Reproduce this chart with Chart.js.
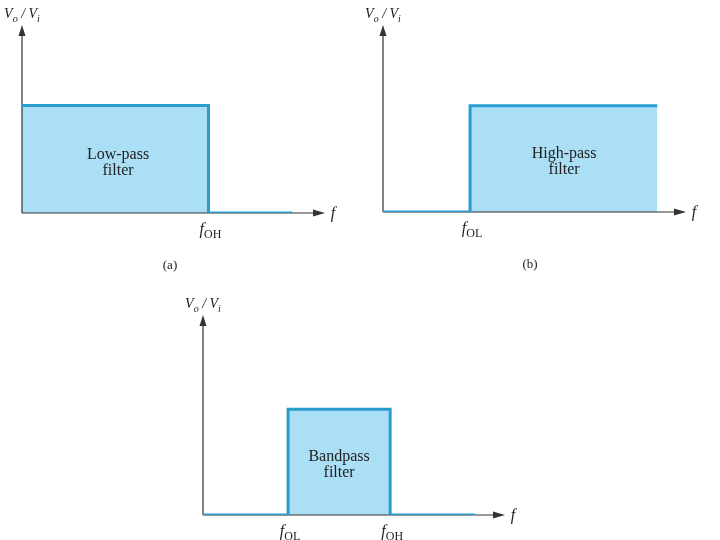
<!DOCTYPE html>
<html>

<head>
    <title>Filter responses</title>
    <script src="https://cdn.jsdelivr.net/npm/chart.js@4"></script>
    <style>
        body { margin: 0; background: #fff; }
        #wrap { position: relative; width: 720px; height: 540px; }
        canvas { position: absolute; }
    </style>
</head>

<body>
    <div id="wrap">
        <canvas id="lowPass" width="360" height="280" style="left:0;top:0"></canvas>
        <canvas id="highPass" width="360" height="280" style="left:360px;top:0"></canvas>
        <canvas id="bandPass" width="360" height="250" style="left:180px;top:290px"></canvas>
    </div>

    <script>
        // Step responses (x = frequency in arbitrary units, y = Vo/Vi)
        const lowPassX = [0, 2, 2.9];
        const lowPassY = [1, 0, 0];
        const highPassX = [0, 1, 3.15];
        const highPassY = [0, 1, 1];
        const bandPassX = [0, 1, 2.2, 3.2];
        const bandPassY = [0, 1, 0, 0];

        // cutoff frequency marks under the x axis
        const lowPassCutX = [2];
        const lowPassCutLabels = ['OH'];
        const highPassCutX = [1];
        const highPassCutLabels = ['OL'];
        const bandPassCutX = [1, 2.2];
        const bandPassCutLabels = ['OL', 'OH'];

        // text inside the pass band
        const lowPassName = ['Low-pass', 'filter'];
        const highPassName = ['High-pass', 'filter'];
        const bandPassName = ['Bandpass', 'filter'];

        const FILL = '#abdff6';
        const LINE = '#2a9dce';
        const AXIS = '#333';
        const TEXT = '#222';
        const SERIF = '"Liberation Serif", "DejaVu Serif", serif';

        // draw text runs: [{t, it, sub}]
        function drawRuns(ctx, runs, cx, y, size) {
            const fontOf = r => (r.it ? 'italic ' : '') + (r.sub ? Math.round(size * 0.72) : size) + 'px ' + SERIF;
            let total = 0;
            runs.forEach(r => { ctx.font = fontOf(r); total += ctx.measureText(r.t).width; });
            let x = cx - total / 2;
            ctx.textAlign = 'left';
            ctx.textBaseline = 'alphabetic';
            ctx.fillStyle = TEXT;
            runs.forEach(r => {
                ctx.font = fontOf(r);
                ctx.fillText(r.t, x, r.sub ? y + size * 0.28 : y);
                x += ctx.measureText(r.t).width;
            });
        }

        const diagramPlugin = {
            id: 'diagram',
            beforeDatasetsDraw(chart) {
                // axes with arrow heads, drawn over the fill but under the blue line
                const ctx = chart.ctx;
                const a = chart.chartArea;
                ctx.save();
                ctx.strokeStyle = AXIS;
                ctx.fillStyle = AXIS;
                ctx.lineWidth = 1.2;
                ctx.beginPath();
                ctx.moveTo(a.left, a.bottom);
                ctx.lineTo(a.left, a.top + 8);
                ctx.moveTo(a.left, a.bottom);
                ctx.lineTo(a.right - 10, a.bottom);
                ctx.stroke();
                ctx.beginPath();
                ctx.moveTo(a.left, a.top);
                ctx.lineTo(a.left - 3.5, a.top + 11);
                ctx.lineTo(a.left + 3.5, a.top + 11);
                ctx.closePath();
                ctx.fill();
                ctx.beginPath();
                ctx.moveTo(a.right, a.bottom);
                ctx.lineTo(a.right - 12, a.bottom - 3.5);
                ctx.lineTo(a.right - 12, a.bottom + 3.5);
                ctx.closePath();
                ctx.fill();
                ctx.restore();
            },
            afterDraw(chart, args, opts) {
                const ctx = chart.ctx;
                const a = chart.chartArea;
                const xs = chart.scales.x;
                const ys = chart.scales.y;
                ctx.save();
                // axis titles
                drawRuns(ctx, [
                    { t: 'V', it: true }, { t: 'o', it: true, sub: true },
                    { t: ' / ', it: true },
                    { t: 'V', it: true }, { t: 'i', it: true, sub: true }
                ], a.left, a.top - 7, 14);
                drawRuns(ctx, [{ t: 'f', it: true }], a.right + 8, a.bottom + 5, 16);
                // cutoff marks
                opts.cutX.forEach((v, i) => {
                    drawRuns(ctx, [{ t: 'f', it: true }, { t: opts.cutLabels[i], sub: true }],
                        xs.getPixelForValue(v) + 2, a.bottom + 21, 16);
                });
                // band name
                ctx.font = '16px ' + SERIF;
                ctx.fillStyle = TEXT;
                ctx.textAlign = 'center';
                ctx.textBaseline = 'middle';
                const cx = xs.getPixelForValue(opts.nameX);
                const cy = ys.getPixelForValue(0.47);
                ctx.fillText(opts.name[0], cx, cy - 8);
                ctx.fillText(opts.name[1], cx, cy + 8);
                // caption
                if (opts.caption) {
                    ctx.font = '13px ' + SERIF;
                    ctx.fillText(opts.caption, opts.captionX, a.bottom + 53);
                }
                ctx.restore();
            }
        };

        function makeDiagram(id, xsArr, ysArr, xMax, yMax, padding, extra) {
            const ctx = document.getElementById(id).getContext('2d');
            return new Chart(ctx, {
                type: 'line',
                data: {
                    datasets: [{
                        data: xsArr.map((x, i) => ({ x: x, y: ysArr[i] })),
                        stepped: 'before',
                        fill: 'origin',
                        backgroundColor: FILL,
                        borderColor: LINE,
                        borderWidth: 3,
                        borderJoinStyle: 'miter',
                        pointRadius: 0
                    }]
                },
                options: {
                    responsive: false,
                    animation: false,
                    layout: { padding: padding },
                    scales: {
                        x: { type: 'linear', display: false, min: 0, max: xMax },
                        y: { display: false, min: 0, max: yMax }
                    },
                    plugins: {
                        legend: { display: false },
                        tooltip: { enabled: false },
                        filler: { drawTime: 'beforeDatasetsDraw' },
                        diagram: extra
                    }
                },
                plugins: [diagramPlugin]
            });
        }

        makeDiagram('lowPass', lowPassX, lowPassY, 3.25, 1.75,
            { left: 22, right: 35, top: 25, bottom: 67 },
            { cutX: lowPassCutX, cutLabels: lowPassCutLabels, name: lowPassName, nameX: 1.03, caption: '(a)', captionX: 170 });

        makeDiagram('highPass', highPassX, highPassY, 3.48, 1.76,
            { left: 23, right: 34, top: 25, bottom: 68 },
            { cutX: highPassCutX, cutLabels: highPassCutLabels, name: highPassName, nameX: 2.08, caption: '(b)', captionX: 170 });

        makeDiagram('bandPass', bandPassX, bandPassY, 3.55, 1.89,
            { left: 23, right: 35, top: 25, bottom: 25 },
            { cutX: bandPassCutX, cutLabels: bandPassCutLabels, name: bandPassName, nameX: 1.6, caption: '' });
    </script>
</body>

</html>
